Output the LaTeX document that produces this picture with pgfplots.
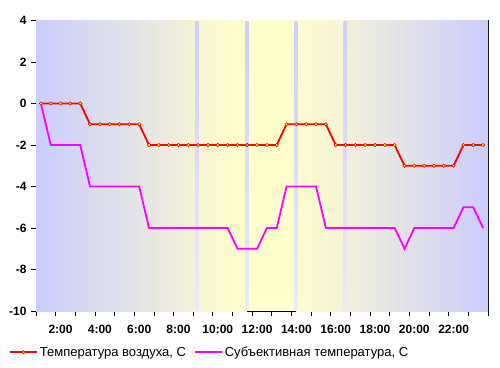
\documentclass[border=0pt]{standalone}
\usepackage{pgfplots}
\pgfplotsset{compat=1.18}
\usepackage{pgfplotstable}
\usepackage{fontspec}
\setmainfont{Liberation Sans}
\definecolor{bgblue}{RGB}{204,204,255}
\definecolor{bgyel}{RGB}{255,255,204}
\definecolor{bgA}{RGB}{243,243,216}
\definecolor{bgB}{RGB}{247,247,211}
\definecolor{bgC}{RGB}{252,252,206}
\definecolor{bgD}{RGB}{245,245,214}
\definecolor{bgE}{RGB}{241,241,217}
\definecolor{stripeT}{RGB}{206,206,255}
\definecolor{stripeB}{RGB}{234,234,250}
\definecolor{gridc}{RGB}{192,192,192}
\definecolor{mag}{RGB}{255,0,255}
\pgfplotsset{
  redleg/.style={legend image code/.code={\draw[##1, mark repeat=2, mark phase=2] plot coordinates {(0pt,0pt) (13.5pt,0pt) (27pt,0pt)};}},
  magleg/.style={legend image code/.code={\draw[##1] (0pt,0pt) -- (27pt,0pt);}},
}
\pgfplotstableread{
x red mag
0 0 0
1 0 -2
2 0 -2
3 0 -2
4 0 -2
5 -1 -4
6 -1 -4
7 -1 -4
8 -1 -4
9 -1 -4
10 -1 -4
11 -2 -6
12 -2 -6
13 -2 -6
14 -2 -6
15 -2 -6
16 -2 -6
17 -2 -6
18 -2 -6
19 -2 -6
20 -2 -7
21 -2 -7
22 -2 -7
23 -2 -6
24 -2 -6
25 -1 -4
26 -1 -4
27 -1 -4
28 -1 -4
29 -1 -6
30 -2 -6
31 -2 -6
32 -2 -6
33 -2 -6
34 -2 -6
35 -2 -6
36 -2 -6
37 -3 -7
38 -3 -6
39 -3 -6
40 -3 -6
41 -3 -6
42 -3 -6
43 -2 -5
44 -2 -5
45 -2 -6
}\datatab
\begin{document}
\begin{tikzpicture}
\begin{axis}[
  set layers,
  scale only axis,
  width=452pt, height=290.5pt,
  at={(36pt,56pt)}, anchor=south west,
  xmin=-0.5, xmax=45.5, ymin=-10, ymax=4,
  axis line style={black, line width=0.8pt},
  xtick={-0.5,1.5,...,45.5},
  xticklabels={},
  extra x ticks={2,6,10,14,18,22,26,30,34,38,42},
  extra x tick labels={2:00,4:00,6:00,8:00,10:00,12:00,14:00,16:00,18:00,20:00,22:00},
  extra x tick style={major tick length=0pt, grid=none, tick style={draw=none},
    xticklabel style={yshift=-11pt}},
  ytick={-10,-8,-6,-4,-2,0,2,4},
  yticklabels={{-10},{-8},{-6},{-4},{-2},{0},{2},{4}},
  tick align=outside,
  major tick length=5pt,
  tick style={black, line width=0.8pt},
  xtick pos=bottom, ytick pos=left,
  ymajorgrids=true,
  major grid style={gridc, line width=0.8pt},
  ticklabel style={font=\bfseries\fontsize{12}{14}\selectfont},
  yticklabel style={xshift=-1pt},
  legend columns=2,
  legend style={draw=none, fill=none, at={(-0.06,-0.142)}, anchor=west,
    font=\fontsize{13}{14}\selectfont, inner sep=0pt,
    /tikz/every even column/.append style={column sep=6pt}},
  legend cell align=left,
]
\shade[on layer=axis background, left color=bgblue, right color=bgA] (axis cs:-0.5,-10) rectangle (axis cs:15.9,4);
\shade[on layer=axis background, left color=bgB, right color=bgyel] (axis cs:15.85,-10) rectangle (axis cs:20.98,4);
\fill[on layer=axis background, bgyel] (axis cs:20.95,-10) rectangle (axis cs:25.98,4);
\shade[on layer=axis background, left color=bgC, right color=bgD] (axis cs:25.95,-10) rectangle (axis cs:30.98,4);
\shade[on layer=axis background, left color=bgE, right color=bgblue] (axis cs:30.95,-10) rectangle (axis cs:45.5,4);
\shade[top color=stripeT, bottom color=stripeB] (axis cs:15.7,-9.96) rectangle (axis cs:16.02,3.96);
\shade[top color=stripeT, bottom color=stripeB] (axis cs:20.8,-9.96) rectangle (axis cs:21.12,3.96);
\shade[top color=stripeT, bottom color=stripeB] (axis cs:25.8,-9.96) rectangle (axis cs:26.12,3.96);
\shade[top color=stripeT, bottom color=stripeB] (axis cs:30.8,-9.96) rectangle (axis cs:31.12,3.96);
\addplot[red, line width=1.8pt, mark=*, mark size=1.7pt,
  mark options={fill=yellow, draw=red!85!black, line width=0.5pt}, redleg]
  table[x=x, y=red] {\datatab};
\addlegendentry{Температура воздуха, С}
\addplot[mag, line width=1.8pt, no marks, magleg]
  table[x=x, y=mag] {\datatab};
\addlegendentry{Субъективная температура, С}
\end{axis}
\path (0,0) rectangle (500pt,367pt);
\end{tikzpicture}
\end{document}
